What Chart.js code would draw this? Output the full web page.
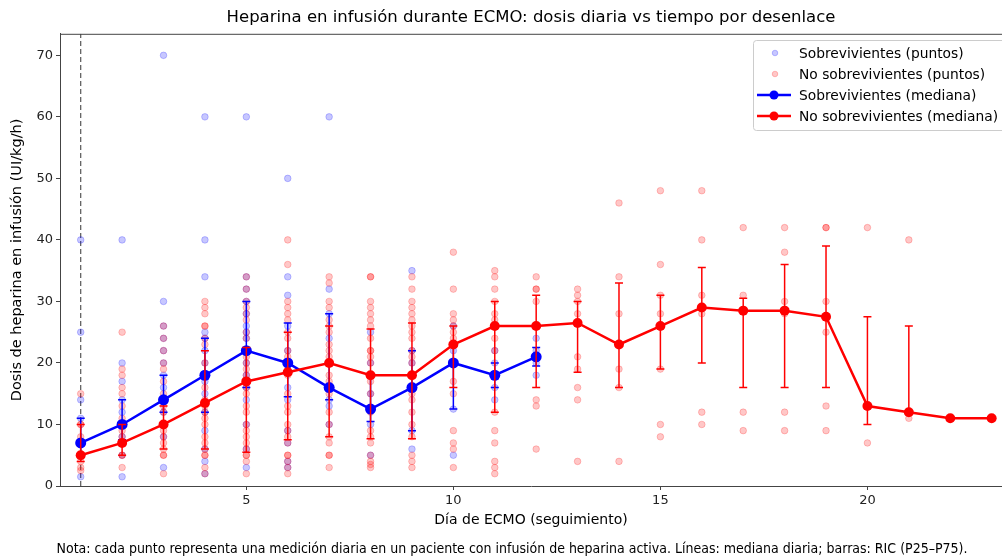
<!DOCTYPE html>
<html lang="es">
<head>
<meta charset="UTF-8">
<title>Heparina en infusión durante ECMO</title>
<script src="https://cdn.jsdelivr.net/npm/chart.js"></script>
<style>
  html, body { margin: 0; padding: 0; background: #fff; }
  canvas { display: block; }
</style>
</head>
<body>
<canvas id="chart" width="1002" height="559"></canvas>
<script>
// Día de ECMO (seguimiento)
const days = [1, 2, 3, 4, 5, 6, 7, 8, 9, 10, 11, 12, 13, 14, 15, 16, 17, 18, 19, 20, 21, 22, 23];

// Mediciones diarias (UI/kg/h), una lista por día
const survivorValues = [
  [40, 25, 14, 11, 7, 7, 5, 1.5],
  [40, 20, 17, 14, 12, 10, 8, 5, 1.5],
  [70, 30, 26, 24, 22, 20, 18, 16, 14, 14, 12, 10, 8, 3],
  [60, 40, 34, 25, 24, 22, 20, 18, 17, 15, 12, 9, 6, 4, 2],
  [60, 34, 32, 30, 28, 26, 25, 24, 22, 20, 18, 16, 14, 10, 6, 3],
  [50, 34, 31, 26, 22, 20, 16, 14, 9, 7, 4, 3],
  [60, 32, 28, 24, 20, 16, 14, 13, 10],
  [25, 20, 15, 12.5, 10, 5],
  [35, 22, 20, 16, 9, 6],
  [26, 22, 20, 12.5, 5],
  [22, 20, 18, 16, 14],
  [24, 22, 21, 20, 18]
];
const nonSurvivorValues = [
  [15, 10, 10, 8, 5, 5, 4, 3, 2.5],
  [25, 19, 18, 16, 15, 13, 11, 9, 8, 7, 7, 5, 5, 3],
  [26, 24, 22, 20, 19, 17, 15, 13, 12, 10, 10, 9, 8, 7, 6, 5, 5, 2],
  [30, 29, 28, 26, 26, 24, 23, 20, 18, 16, 14, 13, 12, 11, 10, 8, 7, 6, 5, 5, 3, 2],
  [34, 32, 30, 29, 28, 27, 25, 24, 21, 20, 19, 18, 17, 16, 15, 13, 12, 10, 9, 8, 7, 6, 5, 5, 4, 2],
  [40, 36, 30, 29, 28, 27, 25, 24, 22, 21, 19, 18, 15, 13, 12, 10, 9, 8, 7, 5, 5, 4, 3, 2],
  [34, 33, 30, 29, 27, 26, 25, 23, 22, 21, 20, 18, 17, 15, 12, 10, 8, 7, 5, 5, 3],
  [34, 34, 30, 29, 28, 27, 26, 24, 22, 22, 21, 20, 18, 17, 15, 12, 9, 8, 7, 5, 4, 3.5, 3],
  [34, 32, 30, 29, 28, 27, 26, 25, 24, 22, 21, 20, 18, 15, 14, 12, 10, 8, 5, 4, 3],
  [38, 32, 28, 27, 26, 25, 24, 23, 20, 17, 15, 9, 7, 6, 3],
  [35, 34, 32, 30, 28, 27, 26, 24, 22, 18, 12, 9, 7, 4, 3, 2],
  [34, 32, 32, 30, 26, 14, 13, 6],
  [32, 31, 30, 28, 21, 19, 16, 14, 4],
  [46, 34, 28, 19, 16, 4],
  [48, 36, 31, 28, 26, 19, 10, 8],
  [48, 40, 31, 28, 12, 10],
  [42, 31, 12, 9],
  [42, 38, 30, 28, 12, 9],
  [42, 42, 30, 25, 13, 9],
  [42, 7],
  [40, 11],
  [11],
  [11]
];

// Mediana diaria y RIC (P25–P75)
const survivorMedian = [7, 10, 14, 18, 22, 20, 16, 12.5, 16, 20, 18, 21];
const survivorP25 = [5, 7.5, 12, 12, 16, 14.5, 14, 10.5, 9, 12.5, 16, 19.5];
const survivorP75 = [11, 14, 18, 24, 30, 26.5, 28, 18, 22, 23, 20, 22.5];

const nonSurvivorMedian = [5, 7, 10, 13.5, 17, 18.5, 20, 18, 18, 23, 26, 26, 26.5, 23, 26, 29, 28.5, 28.5, 27.5, 13, 12, 11, 11];
const nonSurvivorP25 = [4, 5, 6, 6, 5.5, 7.5, 8, 7.7, 7.7, 16, 12, 16, 18.5, 16, 19, 20, 16, 16, 16, 10, 12, null, null];
const nonSurvivorP75 = [10, 10, 13, 22, 22.5, 25, 26, 25.5, 26.5, 26, 30, 31, 30, 33, 31, 35.5, 30.5, 36, 39, 27.5, 26, null, null];

const xTicks = [5, 10, 15, 20];
const yTicks = [0, 10, 20, 30, 40, 50, 60, 70];
const ecmoStartDay = 1;
const xMin = 0.5, xMax = 23.25, yMin = 0, yMax = 73.5;

const BLUE = '#0000ff';
const RED = '#ff0000';
const BLUE_DOT = 'rgba(0, 0, 255, 0.22)';
const RED_DOT = 'rgba(255, 0, 0, 0.22)';
const AXIS = '#444';
const FONT = "'DejaVu Sans', sans-serif";

function toPoints(lists) {
  const pts = [];
  lists.forEach((vals, i) => vals.forEach(v => pts.push({ x: days[i], y: v })));
  return pts;
}
function toLine(values) {
  return values.map((v, i) => ({ x: days[i], y: v }));
}

// barras de error (RIC) dibujadas con las escalas del gráfico
const errorBars = {
  id: 'errorBars',
  beforeDatasetDraw(chart, args) {
    let lo, hi, color;
    if (args.index === 0) { lo = nonSurvivorP25; hi = nonSurvivorP75; color = RED; }
    else if (args.index === 1) { lo = survivorP25; hi = survivorP75; color = BLUE; }
    else return;
    const { ctx, chartArea } = chart;
    const x = chart.scales.x, y = chart.scales.y;
    ctx.save();
    ctx.beginPath();
    ctx.rect(chartArea.left, chartArea.top, chartArea.right - chartArea.left, chartArea.bottom - chartArea.top);
    ctx.clip();
    ctx.strokeStyle = color;
    ctx.lineWidth = 1.5;
    lo.forEach((l, i) => {
      const h = hi[i];
      if (l == null || h == null) return;
      const px = x.getPixelForValue(days[i]);
      const y0 = y.getPixelForValue(l);
      const y1 = y.getPixelForValue(h);
      ctx.beginPath();
      ctx.moveTo(px, y0); ctx.lineTo(px, y1);
      ctx.moveTo(px - 4, y0); ctx.lineTo(px + 4, y0);
      ctx.moveTo(px - 4, y1); ctx.lineTo(px + 4, y1);
      ctx.stroke();
    });
    ctx.restore();
  }
};

// marco superior, leyenda y nota
const decorations = {
  id: 'decorations',
  afterDraw(chart) {
    const { ctx, chartArea } = chart;
    ctx.save();
    ctx.strokeStyle = AXIS;
    ctx.lineWidth = 1;
    ctx.beginPath();
    ctx.moveTo(chartArea.left, chartArea.top + 0.5);
    ctx.lineTo(chartArea.right, chartArea.top + 0.5);
    ctx.stroke();

    // leyenda
    const bx = 753.5, by = 40.5, bw = 262, bh = 90;
    ctx.fillStyle = 'rgba(255,255,255,0.85)';
    ctx.strokeStyle = '#cccccc';
    ctx.beginPath();
    ctx.roundRect(bx, by, bw, bh, 3);
    ctx.fill();
    ctx.stroke();

    const entries = [
      { text: 'Sobrevivientes (puntos)', dot: BLUE_DOT },
      { text: 'No sobrevivientes (puntos)', dot: RED_DOT },
      { text: 'Sobrevivientes (mediana)', line: BLUE },
      { text: 'No sobrevivientes (mediana)', line: RED }
    ];
    const rows = [53, 74, 95, 116];
    ctx.font = '13.8px ' + FONT;
    ctx.textBaseline = 'middle';
    ctx.textAlign = 'left';
    entries.forEach((e, i) => {
      const cy = rows[i];
      if (e.dot) {
        ctx.fillStyle = e.dot;
        ctx.strokeStyle = e.dot;
        ctx.lineWidth = 1;
        ctx.beginPath();
        ctx.arc(775, cy, 2.8, 0, Math.PI * 2);
        ctx.fill();
        ctx.stroke();
      } else {
        ctx.strokeStyle = e.line;
        ctx.fillStyle = e.line;
        ctx.lineWidth = 2.5;
        ctx.beginPath();
        ctx.moveTo(757, cy); ctx.lineTo(791, cy);
        ctx.stroke();
        ctx.beginPath();
        ctx.arc(774, cy, 4.5, 0, Math.PI * 2);
        ctx.fill();
      }
      ctx.fillStyle = '#000';
      ctx.fillText(e.text, 799, cy + 1);
    });

    // nota al pie
    ctx.font = "14px 'DejaVu Sans Condensed', 'Liberation Sans Narrow', sans-serif";
    ctx.textAlign = 'center';
    ctx.fillStyle = '#000';
    ctx.fillText('Nota: cada punto representa una medición diaria en un paciente con infusión de heparina activa. Líneas: mediana diaria; barras: RIC (P25–P75).', 512, 549);
    ctx.restore();
  }
};

new Chart(document.getElementById('chart'), {
  type: 'line',
  data: {
    datasets: [
      {
        label: 'No sobrevivientes (mediana)',
        data: toLine(nonSurvivorMedian),
        borderColor: RED, backgroundColor: RED,
        borderWidth: 2.5, pointRadius: 5, pointBorderWidth: 0,
        tension: 0, order: 0
      },
      {
        label: 'Sobrevivientes (mediana)',
        data: toLine(survivorMedian),
        borderColor: BLUE, backgroundColor: BLUE,
        borderWidth: 2.5, pointRadius: 5.5, pointBorderWidth: 0,
        tension: 0, order: 1
      },
      {
        label: 'No sobrevivientes (puntos)',
        type: 'scatter',
        data: toPoints(nonSurvivorValues),
        backgroundColor: RED_DOT, borderColor: RED_DOT,
        borderWidth: 1, pointRadius: 3.3, order: 2
      },
      {
        label: 'Sobrevivientes (puntos)',
        type: 'scatter',
        data: toPoints(survivorValues),
        backgroundColor: BLUE_DOT, borderColor: BLUE_DOT,
        borderWidth: 1, pointRadius: 3.3, order: 3
      },
      {
        label: 'Inicio ECMO',
        data: [{ x: ecmoStartDay, y: yMin }, { x: ecmoStartDay, y: yMax }],
        borderColor: '#555', borderWidth: 1.2, borderDash: [5, 3],
        pointRadius: 0, order: 4
      }
    ]
  },
  options: {
    responsive: false,
    animation: false,
    events: [],
    layout: { autoPadding: false, padding: { left: 0, right: 0, top: 0, bottom: 27 } },
    plugins: {
      legend: { display: false },
      tooltip: { enabled: false },
      title: {
        display: true,
        fullSize: false,
        text: 'Heparina en infusión durante ECMO: dosis diaria vs tiempo por desenlace',
        color: '#000',
        font: { family: FONT, size: 16.5, weight: 'normal' },
        padding: { top: 8, bottom: 6 }
      }
    },
    scales: {
      x: {
        type: 'linear',
        min: xMin, max: xMax,
        afterBuildTicks: s => { s.ticks = xTicks.map(v => ({ value: v })); },
        afterFit: s => { s.height = 46; s.paddingLeft = 0; s.paddingRight = 0; },
        grid: { drawOnChartArea: false, drawTicks: true, tickLength: 4, color: AXIS },
        border: { display: true, color: AXIS, width: 1 },
        ticks: { color: '#222', font: { family: FONT, size: 13 }, padding: 3, maxRotation: 0, autoSkip: false },
        title: {
          display: true, text: 'Día de ECMO (seguimiento)', color: '#000',
          font: { family: FONT, size: 14 }, padding: { top: 0, bottom: 3 }
        }
      },
      y: {
        type: 'linear',
        min: yMin, max: yMax,
        afterBuildTicks: s => { s.ticks = yTicks.map(v => ({ value: v })); },
        afterFit: s => { s.width = 60; s.paddingTop = 0; s.paddingBottom = 0; },
        grid: { drawOnChartArea: false, drawTicks: true, tickLength: 4, color: AXIS },
        border: { display: true, color: AXIS, width: 1 },
        ticks: { color: '#222', font: { family: FONT, size: 13 }, padding: 3 },
        title: {
          display: true, text: 'Dosis de heparina en infusión (UI/kg/h)', color: '#000',
          font: { family: FONT, size: 14.5 }, padding: { top: 9, bottom: 0 }
        }
      }
    }
  },
  plugins: [errorBars, decorations]
});
</script>
</body>
</html>
